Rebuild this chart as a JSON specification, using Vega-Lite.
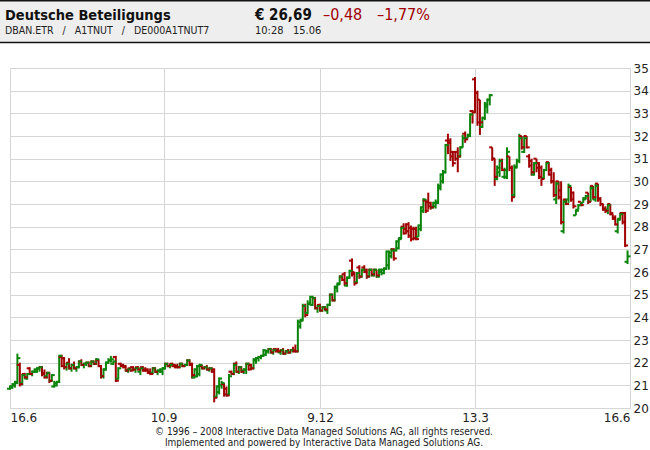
{
"$schema": "https://vega.github.io/schema/vega-lite/v6.json",
"width": 620, "height": 340,
"autosize": {"type": "none"},
"padding": {"left": 10, "top": 68, "right": 20, "bottom": 42},
"background": "#ffffff",
"config": {"view": {"stroke": "#d6d6d6", "strokeWidth": 1}, "font": "DejaVu Sans",
  "axisX": {"labelExpr": "datum.value < 1 ? '16.6' : datum.value < 100 ? '10.9' : datum.value < 150 ? '9.12' : datum.value < 200 ? '13.3' : '16.6'", "title": null, "grid": true, "gridColor": "#d6d6d6", "domain": false, "ticks": false, "labelFlush": true, "labelFontSize": 12, "labelColor": "#222222", "labelPadding": 4, "labelFont": "DejaVu Sans"},
  "axisY": {"orient": "right", "labelOverlap": false, "title": null, "grid": true, "gridColor": "#d6d6d6", "domain": false, "ticks": false, "labelPadding": 3, "labelFontSize": 12, "labelColor": "#222222", "labelFont": "DejaVu Sans"}
},
"datasets": {"ohlc": [
{"i":0,"o":20.85,"h":21.0,"l":20.8,"c":20.95},
{"i":1,"o":20.9,"h":21.1,"l":20.85,"c":21.05},
{"i":2,"o":21.0,"h":21.2,"l":20.9,"c":21.15},
{"i":3,"o":21.1,"h":22.4,"l":21.05,"c":22.2},
{"i":4,"o":21.9,"h":22.0,"l":20.95,"c":21.05},
{"i":5,"o":21.1,"h":21.5,"l":21.0,"c":21.45},
{"i":6,"o":21.5,"h":21.55,"l":21.3,"c":21.35},
{"i":7,"o":21.3,"h":21.55,"l":21.25,"c":21.5},
{"i":8,"o":21.75,"h":21.8,"l":21.45,"c":21.5},
{"i":9,"o":21.5,"h":21.65,"l":21.4,"c":21.6},
{"i":10,"o":21.6,"h":21.75,"l":21.55,"c":21.7},
{"i":11,"o":21.6,"h":21.8,"l":21.55,"c":21.75},
{"i":12,"o":21.75,"h":21.85,"l":21.6,"c":21.8},
{"i":13,"o":21.8,"h":21.85,"l":21.4,"c":21.5},
{"i":14,"o":21.55,"h":21.7,"l":21.3,"c":21.35},
{"i":15,"o":21.4,"h":21.6,"l":21.3,"c":21.55},
{"i":16,"o":21.55,"h":21.6,"l":21.1,"c":21.2},
{"i":17,"o":21.2,"h":21.5,"l":21.15,"c":21.45},
{"i":18,"o":20.95,"h":21.2,"l":20.9,"c":21.1},
{"i":19,"o":21.0,"h":21.2,"l":20.95,"c":21.15},
{"i":20,"o":21.15,"h":22.35,"l":21.1,"c":22.3},
{"i":21,"o":22.25,"h":22.35,"l":21.8,"c":21.85},
{"i":22,"o":22.2,"h":22.25,"l":21.7,"c":21.8},
{"i":23,"o":21.8,"h":22.0,"l":21.65,"c":21.95},
{"i":24,"o":22.0,"h":22.2,"l":21.7,"c":21.75},
{"i":25,"o":21.75,"h":21.95,"l":21.6,"c":21.9},
{"i":26,"o":21.9,"h":22.05,"l":21.7,"c":21.75},
{"i":27,"o":21.75,"h":21.85,"l":21.6,"c":21.8},
{"i":28,"o":21.8,"h":22.1,"l":21.75,"c":22.05},
{"i":29,"o":22.05,"h":22.15,"l":21.85,"c":21.9},
{"i":30,"o":21.9,"h":22.0,"l":21.75,"c":21.95},
{"i":31,"o":21.95,"h":22.05,"l":21.85,"c":22.0},
{"i":32,"o":22.0,"h":22.05,"l":21.8,"c":21.85},
{"i":33,"o":21.85,"h":22.1,"l":21.8,"c":22.05},
{"i":34,"o":22.05,"h":22.1,"l":21.9,"c":21.95},
{"i":35,"o":21.95,"h":22.2,"l":21.9,"c":22.15},
{"i":36,"o":22.1,"h":22.15,"l":21.8,"c":21.85},
{"i":37,"o":21.85,"h":21.9,"l":21.3,"c":21.4},
{"i":38,"o":21.4,"h":21.75,"l":21.3,"c":21.7},
{"i":39,"o":21.7,"h":22.05,"l":21.65,"c":22.0},
{"i":40,"o":22.0,"h":22.2,"l":21.95,"c":22.1},
{"i":41,"o":22.1,"h":22.3,"l":22.0,"c":22.15},
{"i":42,"o":21.95,"h":22.1,"l":21.9,"c":22.05},
{"i":43,"o":22.25,"h":22.3,"l":21.15,"c":21.2},
{"i":44,"o":21.3,"h":21.8,"l":21.25,"c":21.75},
{"i":45,"o":21.95,"h":22.0,"l":21.8,"c":21.85},
{"i":46,"o":21.9,"h":21.95,"l":21.75,"c":21.8},
{"i":47,"o":21.85,"h":21.9,"l":21.6,"c":21.65},
{"i":48,"o":21.65,"h":21.75,"l":21.55,"c":21.7},
{"i":49,"o":21.75,"h":21.8,"l":21.6,"c":21.65},
{"i":50,"o":21.8,"h":21.85,"l":21.65,"c":21.7},
{"i":51,"o":21.7,"h":21.8,"l":21.55,"c":21.75},
{"i":52,"o":21.8,"h":21.85,"l":21.65,"c":21.7},
{"i":53,"o":21.6,"h":21.8,"l":21.45,"c":21.75},
{"i":54,"o":21.8,"h":21.85,"l":21.6,"c":21.65},
{"i":55,"o":21.7,"h":21.8,"l":21.6,"c":21.65},
{"i":56,"o":21.7,"h":21.75,"l":21.5,"c":21.55},
{"i":57,"o":21.6,"h":21.75,"l":21.45,"c":21.5},
{"i":58,"o":21.55,"h":21.8,"l":21.5,"c":21.75},
{"i":59,"o":21.75,"h":21.8,"l":21.55,"c":21.6},
{"i":60,"o":21.6,"h":21.7,"l":21.45,"c":21.65},
{"i":61,"o":21.65,"h":21.75,"l":21.55,"c":21.7},
{"i":62,"o":21.6,"h":21.8,"l":21.45,"c":21.75},
{"i":63,"o":21.75,"h":22.0,"l":21.7,"c":21.95},
{"i":64,"o":21.95,"h":22.0,"l":21.8,"c":21.85},
{"i":65,"o":21.85,"h":21.95,"l":21.75,"c":21.9},
{"i":66,"o":21.95,"h":22.0,"l":21.8,"c":21.85},
{"i":67,"o":21.9,"h":21.95,"l":21.75,"c":21.8},
{"i":68,"o":21.85,"h":21.95,"l":21.75,"c":21.8},
{"i":69,"o":21.8,"h":22.0,"l":21.75,"c":21.95},
{"i":70,"o":21.95,"h":22.0,"l":21.8,"c":21.85},
{"i":71,"o":21.85,"h":21.95,"l":21.8,"c":21.9},
{"i":72,"o":21.9,"h":22.15,"l":21.85,"c":22.1},
{"i":73,"o":22.1,"h":22.15,"l":21.85,"c":21.9},
{"i":74,"o":21.95,"h":22.0,"l":21.3,"c":21.45},
{"i":75,"o":21.35,"h":21.75,"l":21.3,"c":21.7},
{"i":76,"o":21.4,"h":21.9,"l":21.35,"c":21.85},
{"i":77,"o":21.5,"h":21.95,"l":21.4,"c":21.9},
{"i":78,"o":21.85,"h":21.9,"l":21.7,"c":21.75},
{"i":79,"o":21.75,"h":21.85,"l":21.7,"c":21.8},
{"i":80,"o":21.8,"h":21.9,"l":21.65,"c":21.7},
{"i":81,"o":21.7,"h":21.8,"l":21.6,"c":21.75},
{"i":82,"o":21.75,"h":21.8,"l":21.55,"c":21.6},
{"i":83,"o":21.7,"h":21.75,"l":20.25,"c":20.45},
{"i":84,"o":20.5,"h":21.0,"l":20.45,"c":20.95},
{"i":85,"o":20.7,"h":21.35,"l":20.6,"c":21.3},
{"i":86,"o":21.0,"h":21.2,"l":20.85,"c":21.1},
{"i":87,"o":21.05,"h":21.1,"l":20.5,"c":20.6},
{"i":88,"o":20.85,"h":20.95,"l":20.5,"c":20.55},
{"i":89,"o":20.6,"h":21.5,"l":20.55,"c":21.4},
{"i":90,"o":21.6,"h":21.65,"l":21.45,"c":21.5},
{"i":91,"o":21.5,"h":22.0,"l":21.45,"c":21.9},
{"i":92,"o":21.95,"h":22.05,"l":21.55,"c":21.6},
{"i":93,"o":21.6,"h":21.85,"l":21.5,"c":21.8},
{"i":94,"o":21.8,"h":21.85,"l":21.55,"c":21.6},
{"i":95,"o":21.65,"h":21.75,"l":21.5,"c":21.7},
{"i":96,"o":21.7,"h":22.0,"l":21.5,"c":21.95},
{"i":97,"o":21.95,"h":22.0,"l":21.65,"c":21.7},
{"i":98,"o":21.9,"h":21.95,"l":21.7,"c":21.75},
{"i":99,"o":21.75,"h":22.2,"l":21.7,"c":22.15},
{"i":100,"o":22.1,"h":22.25,"l":21.95,"c":22.2},
{"i":101,"o":22.2,"h":22.3,"l":22.05,"c":22.25},
{"i":102,"o":22.25,"h":22.35,"l":22.15,"c":22.3},
{"i":103,"o":22.3,"h":22.6,"l":22.25,"c":22.55},
{"i":104,"o":22.35,"h":22.55,"l":22.3,"c":22.5},
{"i":105,"o":22.5,"h":22.65,"l":22.4,"c":22.6},
{"i":106,"o":22.6,"h":22.65,"l":22.4,"c":22.45},
{"i":107,"o":22.45,"h":22.6,"l":22.35,"c":22.55},
{"i":108,"o":22.6,"h":22.65,"l":22.45,"c":22.5},
{"i":109,"o":22.55,"h":22.65,"l":22.45,"c":22.5},
{"i":110,"o":22.45,"h":22.6,"l":22.35,"c":22.55},
{"i":111,"o":22.55,"h":22.65,"l":22.35,"c":22.4},
{"i":112,"o":22.4,"h":22.55,"l":22.35,"c":22.5},
{"i":113,"o":22.5,"h":22.6,"l":22.4,"c":22.45},
{"i":114,"o":22.45,"h":22.6,"l":22.4,"c":22.55},
{"i":115,"o":22.55,"h":22.7,"l":22.45,"c":22.5},
{"i":116,"o":22.55,"h":22.8,"l":22.45,"c":22.5},
{"i":117,"o":22.5,"h":23.9,"l":22.45,"c":23.8},
{"i":118,"o":23.6,"h":23.9,"l":23.5,"c":23.85},
{"i":119,"o":23.9,"h":24.6,"l":23.85,"c":24.5},
{"i":120,"o":24.5,"h":24.6,"l":24.0,"c":24.1},
{"i":121,"o":24.2,"h":24.75,"l":24.15,"c":24.6},
{"i":122,"o":24.6,"h":24.95,"l":24.55,"c":24.9},
{"i":123,"o":24.55,"h":24.95,"l":24.5,"c":24.85},
{"i":124,"o":24.85,"h":24.9,"l":24.35,"c":24.4},
{"i":125,"o":24.4,"h":24.55,"l":24.2,"c":24.5},
{"i":126,"o":24.55,"h":24.6,"l":24.25,"c":24.3},
{"i":127,"o":24.3,"h":24.5,"l":24.25,"c":24.45},
{"i":128,"o":24.45,"h":24.5,"l":24.3,"c":24.35},
{"i":129,"o":24.3,"h":24.6,"l":24.15,"c":24.55},
{"i":130,"o":24.55,"h":25.05,"l":24.5,"c":25.0},
{"i":131,"o":25.0,"h":25.05,"l":24.7,"c":24.75},
{"i":132,"o":24.75,"h":25.4,"l":24.7,"c":25.35},
{"i":133,"o":25.3,"h":25.5,"l":25.1,"c":25.45},
{"i":134,"o":25.5,"h":25.85,"l":25.45,"c":25.8},
{"i":135,"o":25.8,"h":25.85,"l":25.6,"c":25.65},
{"i":136,"o":25.9,"h":26.0,"l":25.4,"c":25.5},
{"i":137,"o":25.4,"h":25.8,"l":25.35,"c":25.75},
{"i":138,"o":25.75,"h":26.1,"l":25.7,"c":26.05},
{"i":139,"o":26.5,"h":26.6,"l":25.8,"c":25.9},
{"i":140,"o":26.0,"h":26.0,"l":25.4,"c":25.5},
{"i":141,"o":25.55,"h":26.0,"l":25.5,"c":25.95},
{"i":142,"o":26.2,"h":26.3,"l":25.7,"c":25.8},
{"i":143,"o":25.8,"h":26.15,"l":25.75,"c":26.1},
{"i":144,"o":26.2,"h":26.3,"l":25.95,"c":26.0},
{"i":145,"o":26.1,"h":26.15,"l":25.7,"c":25.8},
{"i":146,"o":25.8,"h":26.15,"l":25.75,"c":26.1},
{"i":147,"o":26.1,"h":26.15,"l":25.8,"c":25.9},
{"i":148,"o":25.85,"h":26.15,"l":25.8,"c":26.1},
{"i":149,"o":26.1,"h":26.1,"l":25.75,"c":25.85},
{"i":150,"o":25.8,"h":26.15,"l":25.75,"c":26.1},
{"i":151,"o":26.0,"h":26.15,"l":25.85,"c":26.1},
{"i":152,"o":25.95,"h":26.2,"l":25.9,"c":26.15},
{"i":153,"o":26.15,"h":26.95,"l":26.1,"c":26.9},
{"i":154,"o":26.3,"h":26.95,"l":26.1,"c":26.85},
{"i":155,"o":26.7,"h":27.05,"l":26.6,"c":26.95},
{"i":156,"o":27.0,"h":27.05,"l":26.5,"c":26.6},
{"i":157,"o":26.95,"h":27.4,"l":26.9,"c":27.35},
{"i":158,"o":27.05,"h":27.5,"l":27.0,"c":27.45},
{"i":159,"o":27.5,"h":28.0,"l":27.45,"c":27.95},
{"i":160,"o":28.0,"h":28.15,"l":27.65,"c":27.7},
{"i":161,"o":27.9,"h":28.15,"l":27.7,"c":27.8},
{"i":162,"o":28.1,"h":28.2,"l":27.5,"c":27.6},
{"i":163,"o":27.95,"h":28.05,"l":27.35,"c":27.45},
{"i":164,"o":27.9,"h":28.0,"l":27.4,"c":27.5},
{"i":165,"o":27.9,"h":28.0,"l":27.4,"c":27.45},
{"i":166,"o":27.55,"h":28.1,"l":27.55,"c":28.05},
{"i":167,"o":27.9,"h":28.9,"l":27.8,"c":28.85},
{"i":168,"o":28.7,"h":29.25,"l":28.6,"c":29.2},
{"i":169,"o":29.15,"h":29.2,"l":28.6,"c":28.7},
{"i":170,"o":29.1,"h":29.5,"l":28.75,"c":28.9},
{"i":171,"o":29.05,"h":29.1,"l":28.75,"c":28.85},
{"i":172,"o":28.85,"h":29.1,"l":28.8,"c":29.05},
{"i":173,"o":28.9,"h":29.2,"l":28.8,"c":29.1},
{"i":174,"o":29.05,"h":29.9,"l":29.0,"c":29.8},
{"i":175,"o":29.7,"h":30.35,"l":29.6,"c":30.3},
{"i":176,"o":30.0,"h":30.5,"l":29.9,"c":30.4},
{"i":177,"o":30.4,"h":31.65,"l":30.35,"c":31.6},
{"i":178,"o":31.8,"h":32.1,"l":31.2,"c":31.7},
{"i":179,"o":31.8,"h":31.9,"l":30.9,"c":31.1},
{"i":180,"o":31.3,"h":31.3,"l":30.65,"c":30.8},
{"i":181,"o":31.3,"h":31.3,"l":30.9,"c":31.0},
{"i":182,"o":31.3,"h":31.5,"l":30.4,"c":31.1},
{"i":183,"o":31.1,"h":31.55,"l":31.05,"c":31.5},
{"i":184,"o":31.5,"h":32.05,"l":31.5,"c":31.9},
{"i":185,"o":32.1,"h":32.2,"l":31.7,"c":31.85},
{"i":186,"o":31.9,"h":32.1,"l":31.9,"c":32.05},
{"i":187,"o":32.0,"h":33.0,"l":31.95,"c":32.95},
{"i":188,"o":33.1,"h":33.15,"l":32.55,"c":33.05},
{"i":189,"o":34.5,"h":34.6,"l":33.0,"c":33.9},
{"i":190,"o":33.9,"h":34.0,"l":32.45,"c":32.6},
{"i":191,"o":33.6,"h":33.6,"l":32.05,"c":32.6},
{"i":192,"o":32.4,"h":32.85,"l":32.35,"c":32.8},
{"i":193,"o":32.8,"h":33.5,"l":32.7,"c":33.4},
{"i":194,"o":33.3,"h":33.65,"l":33.0,"c":33.6},
{"i":195,"o":33.6,"h":33.85,"l":33.35,"c":33.8},
{"i":196,"o":31.5,"h":31.5,"l":30.9,"c":31.0},
{"i":197,"o":31.0,"h":31.0,"l":29.8,"c":30.2},
{"i":198,"o":30.1,"h":30.7,"l":30.05,"c":30.6},
{"i":199,"o":30.4,"h":31.0,"l":30.2,"c":30.9},
{"i":200,"o":30.9,"h":31.0,"l":30.45,"c":30.5},
{"i":201,"o":30.2,"h":30.6,"l":30.1,"c":30.5},
{"i":202,"o":30.2,"h":31.5,"l":30.1,"c":31.3},
{"i":203,"o":31.1,"h":31.1,"l":30.45,"c":30.6},
{"i":204,"o":30.6,"h":30.7,"l":29.1,"c":29.3},
{"i":205,"o":29.4,"h":30.75,"l":29.3,"c":30.6},
{"i":206,"o":30.65,"h":31.0,"l":30.6,"c":30.9},
{"i":207,"o":30.9,"h":32.1,"l":30.8,"c":31.9},
{"i":208,"o":32.0,"h":32.0,"l":31.4,"c":31.5},
{"i":209,"o":31.3,"h":32.0,"l":31.25,"c":31.9},
{"i":210,"o":32.0,"h":32.0,"l":31.45,"c":31.5},
{"i":211,"o":31.1,"h":31.2,"l":30.6,"c":30.7},
{"i":212,"o":30.9,"h":31.0,"l":30.25,"c":30.4},
{"i":213,"o":30.3,"h":30.85,"l":30.25,"c":30.8},
{"i":214,"o":31.0,"h":31.0,"l":30.4,"c":30.6},
{"i":215,"o":30.8,"h":30.85,"l":30.1,"c":30.2},
{"i":216,"o":30.6,"h":30.7,"l":29.8,"c":30.1},
{"i":217,"o":30.15,"h":30.55,"l":30.1,"c":30.5},
{"i":218,"o":30.5,"h":30.85,"l":30.45,"c":30.8},
{"i":219,"o":30.85,"h":30.85,"l":30.25,"c":30.3},
{"i":220,"o":30.5,"h":30.6,"l":29.9,"c":30.0},
{"i":221,"o":30.0,"h":30.4,"l":29.3,"c":29.4},
{"i":222,"o":29.2,"h":30.0,"l":29.0,"c":29.9},
{"i":223,"o":30.0,"h":30.0,"l":29.2,"c":29.3},
{"i":224,"o":29.6,"h":30.0,"l":28.1,"c":28.2},
{"i":225,"o":27.8,"h":29.2,"l":27.7,"c":29.1},
{"i":226,"o":29.2,"h":29.2,"l":28.95,"c":29.0},
{"i":227,"o":29.2,"h":29.9,"l":29.05,"c":29.8},
{"i":228,"o":29.75,"h":29.75,"l":29.1,"c":29.2},
{"i":229,"o":29.5,"h":29.55,"l":28.8,"c":28.9},
{"i":230,"o":28.5,"h":28.75,"l":28.5,"c":28.7},
{"i":231,"o":28.75,"h":29.0,"l":28.75,"c":28.95},
{"i":232,"o":29.1,"h":29.1,"l":28.9,"c":28.95},
{"i":233,"o":29.05,"h":29.3,"l":29.05,"c":29.25},
{"i":234,"o":29.2,"h":29.4,"l":29.2,"c":29.35},
{"i":235,"o":29.5,"h":29.5,"l":29.0,"c":29.1},
{"i":236,"o":29.1,"h":29.8,"l":29.1,"c":29.7},
{"i":237,"o":29.8,"h":29.8,"l":29.2,"c":29.3},
{"i":238,"o":29.2,"h":29.9,"l":29.1,"c":29.8},
{"i":239,"o":29.9,"h":29.9,"l":29.1,"c":29.2},
{"i":240,"o":29.25,"h":29.3,"l":28.9,"c":29.0},
{"i":241,"o":29.0,"h":29.0,"l":28.7,"c":28.75},
{"i":242,"o":28.8,"h":28.9,"l":28.6,"c":28.7},
{"i":243,"o":28.75,"h":29.0,"l":28.55,"c":28.95},
{"i":244,"o":29.0,"h":29.0,"l":28.5,"c":28.6},
{"i":245,"o":28.55,"h":28.55,"l":28.3,"c":28.35},
{"i":246,"o":28.4,"h":28.5,"l":28.05,"c":28.1},
{"i":247,"o":27.8,"h":28.35,"l":27.7,"c":28.3},
{"i":248,"o":28.35,"h":28.6,"l":28.3,"c":28.55},
{"i":249,"o":28.6,"h":28.65,"l":28.1,"c":28.2},
{"i":250,"o":28.6,"h":28.65,"l":27.1,"c":27.17},
{"i":251,"o":26.45,"h":26.95,"l":26.35,"c":26.69}
]},
"layer": [
 {"data": {"values": [{}]}, "mark": {"type": "rect", "fill": "#eeeeee", "stroke": "#111111", "strokeWidth": 1.5},
  "encoding": {"x": {"value": -12}, "x2": {"value": 642}, "y": {"value": -67.3}, "y2": {"value": -25.5}}},
 {"data": {"values": [{}]}, "mark": {"type": "text", "text": "Deutsche Beteiligungs", "x": -5, "y": -48, "align": "left", "baseline": "alphabetic", "fontSize": 14.5, "fontWeight": "bold", "font": "Liberation Sans Narrow, DejaVu Sans Condensed, sans-serif", "color": "#111111"}, "encoding": {}},
 {"data": {"values": [{}]}, "mark": {"type": "text", "text": "DBAN.ETR\u00a0\u00a0\u00a0/\u00a0\u00a0\u00a0A1TNUT\u00a0\u00a0\u00a0/\u00a0\u00a0\u00a0DE000A1TNUT7", "x": -5, "y": -34, "align": "left", "baseline": "alphabetic", "fontSize": 10.5, "font": "Liberation Sans Narrow, DejaVu Sans Condensed, sans-serif", "color": "#222222"}, "encoding": {}},
 {"data": {"values": [{}]}, "mark": {"type": "text", "text": "€ 26,69", "x": 245, "y": -48, "align": "left", "baseline": "alphabetic", "fontSize": 15, "fontWeight": "bold", "font": "Liberation Sans Narrow, DejaVu Sans Condensed, sans-serif", "color": "#111111"}, "encoding": {}},
 {"data": {"values": [{}]}, "mark": {"type": "text", "text": "–0,48", "x": 313, "y": -48, "align": "left", "baseline": "alphabetic", "fontSize": 16, "font": "Liberation Sans Narrow, DejaVu Sans Condensed, sans-serif", "color": "#a00000"}, "encoding": {}},
 {"data": {"values": [{}]}, "mark": {"type": "text", "text": "–1,77%", "x": 367, "y": -48, "align": "left", "baseline": "alphabetic", "fontSize": 16, "font": "Liberation Sans Narrow, DejaVu Sans Condensed, sans-serif", "color": "#a00000"}, "encoding": {}},
 {"data": {"values": [{}]}, "mark": {"type": "text", "text": "10:28\u00a0\u00a0\u00a015.06", "x": 245, "y": -34, "align": "left", "baseline": "alphabetic", "fontSize": 11, "font": "Liberation Sans Narrow, DejaVu Sans Condensed, sans-serif", "color": "#222222"}, "encoding": {}},
 {"data": {"values": [{}]}, "mark": {"type": "text", "text": "© 1996 – 2008 Interactive Data Managed Solutions AG, all rights reserved.", "x": 314, "y": 367, "align": "center", "baseline": "alphabetic", "fontSize": 10, "font": "DejaVu Sans Condensed, sans-serif", "color": "#222222"}, "encoding": {}},
 {"data": {"values": [{}]}, "mark": {"type": "text", "text": "Implemented and powered by Interactive Data Managed Solutions AG.", "x": 314, "y": 378, "align": "center", "baseline": "alphabetic", "fontSize": 10, "font": "DejaVu Sans Condensed, sans-serif", "color": "#222222"}, "encoding": {}},
 {"data": {"name": "ohlc"}, "mark": {"type": "rule", "strokeWidth": 2},
  "encoding": {
   "x": {"field": "i", "type": "quantitative", "title": null, "scale": {"domain": [0, 252], "nice": false, "zero": false}, "axis": {"values": [0, 62.4, 126, 189, 252]}},
   "y": {"field": "l", "type": "quantitative", "title": null, "scale": {"domain": [20, 35], "nice": false, "zero": false}, "axis": {"values": [20,21,22,23,24,25,26,27,28,29,30,31,32,33,34,35]}},
   "y2": {"field": "h"},
   "color": {"condition": {"test": "datum.c >= datum.o", "value": "#0b840b"}, "value": "#a00000"}
  }},
 {"data": {"name": "ohlc"}, "mark": {"type": "tick", "orient": "horizontal", "size": 3, "thickness": 2, "xOffset": -1.5, "opacity": 1},
  "encoding": {
   "x": {"field": "i", "type": "quantitative", "title": null, "axis": {"values": [0, 62.4, 126, 189, 252]}},
   "y": {"field": "o", "type": "quantitative", "title": null, "axis": {"values": [20,21,22,23,24,25,26,27,28,29,30,31,32,33,34,35]}},
   "color": {"condition": {"test": "datum.c >= datum.o", "value": "#0b840b"}, "value": "#a00000"}
  }},
 {"data": {"name": "ohlc"}, "mark": {"type": "tick", "orient": "horizontal", "size": 3, "thickness": 2, "xOffset": 1.5, "opacity": 1},
  "encoding": {
   "x": {"field": "i", "type": "quantitative", "title": null, "axis": {"values": [0, 62.4, 126, 189, 252]}},
   "y": {"field": "c", "type": "quantitative", "title": null, "axis": {"values": [20,21,22,23,24,25,26,27,28,29,30,31,32,33,34,35]}},
   "color": {"condition": {"test": "datum.c >= datum.o", "value": "#0b840b"}, "value": "#a00000"}
  }}
]
}
